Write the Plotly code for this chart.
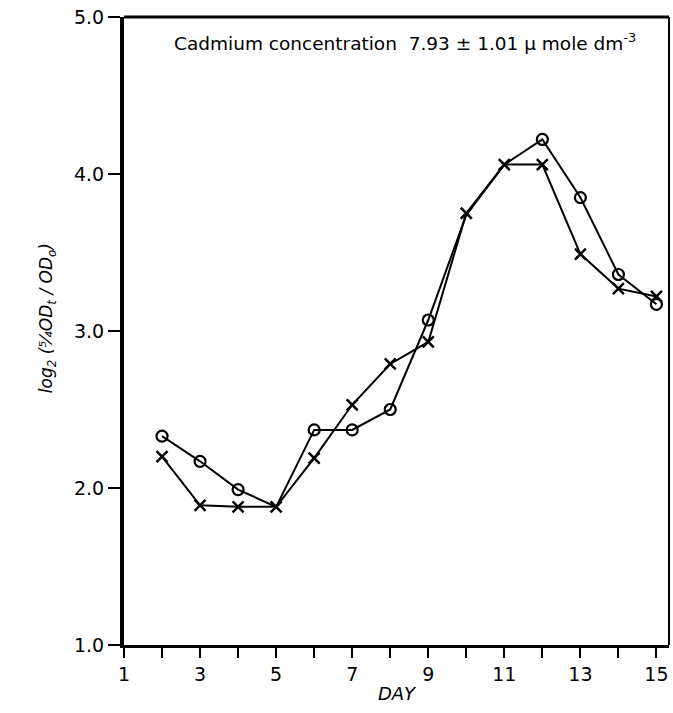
import plotly.graph_objects as go

days = list(range(2, 16))
circle_vals = [2.33, 2.17, 1.99, 1.88, 2.37, 2.37, 2.50, 3.07, 3.74, 4.06, 4.22, 3.85, 3.36, 3.17]
cross_vals = [2.20, 1.89, 1.88, 1.88, 2.19, 2.53, 2.79, 2.93, 3.75, 4.06, 4.06, 3.49, 3.27, 3.22]

# circles are hidden under the crosses where both series coincide (days 5, 10, 11)
shown = [abs(c - x) >= 0.03 for c, x in zip(circle_vals, cross_vals)]
circle_days_shown = [d for d, s in zip(days, shown) if s]
circle_vals_shown = [v for v, s in zip(circle_vals, shown) if s]

x_tickvals = [1, 3, 5, 7, 9, 11, 13, 15]
x_ticktext = ["1", "3", "5", "7", "9", "11", "13", "15"]
y_tickvals = [1.0, 2.0, 3.0, 4.0, 5.0]
y_ticktext = ["1.0", "2.0", "3.0", "4.0", "5.0"]

FONT = "DejaVu Sans"

fig = go.Figure()
fig.add_trace(go.Scatter(
    x=days, y=circle_vals, mode="lines",
    line=dict(color="black", width=2), showlegend=False))
fig.add_trace(go.Scatter(
    x=circle_days_shown, y=circle_vals_shown, mode="markers",
    marker=dict(symbol="circle-open", size=11, color="black",
                line=dict(width=2.2, color="black")),
    showlegend=False))
fig.add_trace(go.Scatter(
    x=days, y=cross_vals, mode="lines+markers",
    line=dict(color="black", width=2),
    marker=dict(symbol="x-thin-open", size=11, color="black",
                line=dict(width=2.5, color="black")),
    showlegend=False))

fig.update_layout(
    width=673, height=713,
    margin=dict(l=124, r=4, t=17, b=68),
    plot_bgcolor="white", paper_bgcolor="white",
    font=dict(family=FONT, color="black", size=19),
    xaxis=dict(range=[1, 15.33], tickmode="array", tickvals=x_tickvals, ticktext=x_ticktext,
               ticks="outside", ticklen=10, tickwidth=2, tickcolor="black",
               minor=dict(dtick=1, tick0=1, ticks="outside", ticklen=10, tickwidth=2,
                          tickcolor="black", showgrid=False),
               showline=True, linecolor="black", linewidth=3, showgrid=False, zeroline=False,
               tickfont=dict(size=19),
               title=dict(text="<i>DAY</i>", font=dict(size=18), standoff=4)),
    yaxis=dict(range=[1, 5], tickmode="array", tickvals=y_tickvals, ticktext=y_ticktext,
               ticks="outside", ticklen=12, tickwidth=2, tickcolor="black",
               showline=True, linecolor="black", linewidth=4, showgrid=False, zeroline=False,
               tickfont=dict(size=19)),
)

# top and right borders
fig.add_shape(type="line", xref="paper", yref="paper", x0=0, x1=1, y0=1, y1=1,
              line=dict(color="black", width=3))
fig.add_shape(type="line", xref="paper", yref="paper", x0=1, x1=1, y0=0, y1=1,
              line=dict(color="black", width=2))

fig.add_annotation(xref="paper", yref="paper", x=0.515, y=0.96, xanchor="center", yanchor="middle",
                   showarrow=False,
                   text="Cadmium concentration  7.93 ± 1.01 μ mole dm<sup>-3</sup>",
                   font=dict(size=18.5, family=FONT))

fig.add_annotation(xref="paper", yref="paper", x=-0.14, y=0.52, xanchor="center", yanchor="middle",
                   showarrow=False, textangle=-90,
                   text="<i>log<sub>2</sub> (⁵⁄₄OD<sub>t</sub> / OD<sub>o</sub>)</i>",
                   font=dict(size=17, family=FONT))

fig.write_html("out.html")
